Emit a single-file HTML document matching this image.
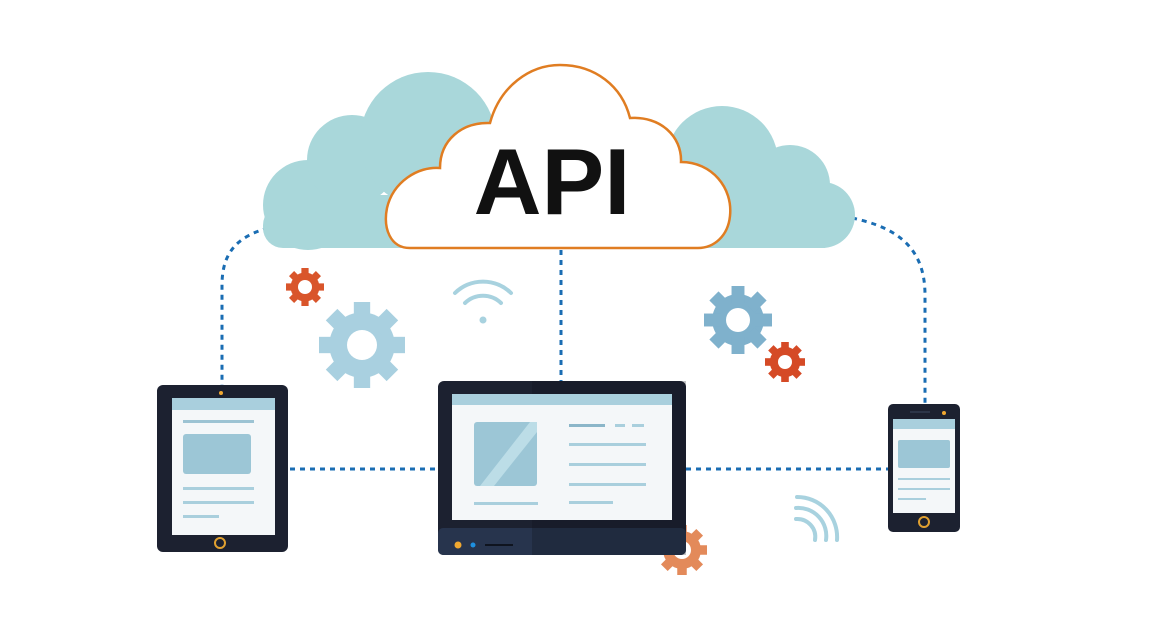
<!DOCTYPE html>
<html><head><meta charset="utf-8"><style>
html,body{margin:0;padding:0;background:#fff;}
svg{display:block}
</style></head><body>
<svg width="1164" height="640" viewBox="0 0 1164 640" xmlns="http://www.w3.org/2000/svg">
<defs>
<g id="gear">
<circle r="0.76"/>
<rect x="-0.19" y="-1" width="0.38" height="0.5"/>
<rect x="-0.19" y="-1" width="0.38" height="0.5" transform="rotate(45)"/>
<rect x="-0.19" y="-1" width="0.38" height="0.5" transform="rotate(90)"/>
<rect x="-0.19" y="-1" width="0.38" height="0.5" transform="rotate(135)"/>
<rect x="-0.19" y="-1" width="0.38" height="0.5" transform="rotate(180)"/>
<rect x="-0.19" y="-1" width="0.38" height="0.5" transform="rotate(225)"/>
<rect x="-0.19" y="-1" width="0.38" height="0.5" transform="rotate(270)"/>
<rect x="-0.19" y="-1" width="0.38" height="0.5" transform="rotate(315)"/>
</g>
</defs>
<rect width="1164" height="640" fill="#fff"/>

<!-- dotted connectors -->
<g fill="none" stroke="#1a6db3" stroke-width="3" stroke-dasharray="5 5">
<path d="M268,228 C240,236 222,250 222,285 V386"/>
<line x1="561" y1="250" x2="561" y2="381"/>
<path d="M852,218 C900,228 925,250 925,295 V404"/>
<line x1="290" y1="469" x2="438" y2="469"/>
<line x1="686" y1="469" x2="888" y2="469"/>
</g>

<!-- teal cloud -->
<g fill="#a9d7da">
<circle cx="308" cy="205" r="45"/>
<circle cx="352" cy="160" r="45"/>
<circle cx="428" cy="140" r="68"/>
<circle cx="722" cy="162" r="56"/>
<circle cx="790" cy="185" r="40"/>
<circle cx="822" cy="215" r="33"/>
<rect x="300" y="195" width="525" height="53"/>
<rect x="263" y="205" width="60" height="43" rx="20"/>
</g>

<!-- API cloud -->
<path d="M410,248 C390,248 383,228 387,208 C393,182 418,166 440,168 C440,140 462,122 490,123 C500,86 530,65 560,65 C595,65 622,86 630,118 C660,116 682,136 681,162 C712,162 733,188 730,216 C728,236 714,248 698,248 Z" fill="#fff" stroke="#e07d22" stroke-width="2.5"/>
<text x="552" y="214" text-anchor="middle" font-family="Liberation Sans, sans-serif" font-weight="700" font-size="94" fill="#111">API</text>

<!-- gears -->
<use href="#gear" transform="translate(305,287) scale(19)" fill="#d9552b"/>
<circle cx="305" cy="287" r="7" fill="#fff"/>
<use href="#gear" transform="translate(362,345) scale(43)" fill="#a9d0e0"/>
<circle cx="362" cy="345" r="15" fill="#fff"/>
<use href="#gear" transform="translate(738,320) scale(34)" fill="#7fb1cc"/>
<circle cx="738" cy="320" r="12" fill="#fff"/>
<use href="#gear" transform="translate(785,362) scale(20)" fill="#d54a26"/>
<circle cx="785" cy="362" r="7" fill="#fff"/>
<use href="#gear" transform="translate(682,550) scale(25)" fill="#e38a5a"/>
<circle cx="682" cy="550" r="9" fill="#fff"/>

<!-- wifi top -->
<g fill="none" stroke="#a8d2df" stroke-width="4" stroke-linecap="round">
<path d="M455,293 A40,40 0 0 1 511,293"/>
<path d="M465,303 A26,26 0 0 1 501,303"/>
</g>
<circle cx="483" cy="320" r="3.5" fill="#a8d2df"/>
<!-- wifi bottom right -->
<g fill="none" stroke="#a8d2df" stroke-width="4" stroke-linecap="round">
<path d="M797,497 A40,40 0 0 1 837,540"/>
<path d="M796,508 A28,28 0 0 1 826,540"/>
<path d="M796,519 A18,18 0 0 1 815,540"/>
</g>

<!-- tablet -->
<rect x="157" y="385" width="131" height="167" rx="6" fill="#1c2130"/>
<circle cx="221" cy="393" r="2" fill="#f0a830"/>
<rect x="172" y="398" width="103" height="137" fill="#f4f7f9"/>
<rect x="172" y="398" width="103" height="12" fill="#a9cfdd"/>
<rect x="183" y="420" width="71" height="3" fill="#9cc3d3"/>
<rect x="183" y="434" width="68" height="40" rx="3" fill="#9cc6d6"/>
<rect x="183" y="487" width="71" height="3" fill="#a9cfdd"/>
<rect x="183" y="501" width="71" height="3" fill="#a9cfdd"/>
<rect x="183" y="515" width="36" height="3" fill="#a9cfdd"/>
<circle cx="220" cy="543" r="5" fill="none" stroke="#e0a030" stroke-width="2"/>

<!-- monitor -->
<rect x="438" y="381" width="248" height="174" rx="6" fill="#1c2130"/>
<rect x="438" y="528" width="248" height="27" rx="5" fill="#27344d"/>
<rect x="532" y="381" width="154" height="174" fill="#0a0e18" opacity="0.25"/>
<rect x="452" y="394" width="220" height="126" fill="#f4f7f9"/>
<rect x="452" y="394" width="220" height="11" fill="#a9cfdd"/>
<rect x="474" y="422" width="63" height="64" rx="3" fill="#9cc6d6"/>
<path d="M480,486 L530,422 L537,422 L537,432 L494,486 Z" fill="#bcdde7"/>
<rect x="569" y="424" width="36" height="3" fill="#8bb6c9"/>
<rect x="615" y="424" width="10" height="3" fill="#a9cfdd"/>
<rect x="632" y="424" width="12" height="3" fill="#a9cfdd"/>
<rect x="569" y="443" width="77" height="3" fill="#a9cfdd"/>
<rect x="569" y="463" width="77" height="3" fill="#a9cfdd"/>
<rect x="569" y="483" width="77" height="3" fill="#a9cfdd"/>
<rect x="569" y="501" width="44" height="3" fill="#a9cfdd"/>
<rect x="474" y="502" width="64" height="3" fill="#a9cfdd"/>
<circle cx="458" cy="545" r="3.5" fill="#f0a830"/>
<circle cx="473" cy="545" r="2.5" fill="#1e90e0"/>
<rect x="485" y="544" width="28" height="2" fill="#0f141f"/>

<!-- phone -->
<rect x="888" y="404" width="72" height="128" rx="5" fill="#1c2130"/>
<rect x="910" y="411" width="20" height="2" fill="#2c3548"/>
<circle cx="944" cy="413" r="2" fill="#f0a830"/>
<rect x="893" y="419" width="62" height="94" fill="#f4f7f9"/>
<rect x="893" y="419" width="62" height="10" fill="#a9cfdd"/>
<rect x="898" y="440" width="52" height="28" rx="2" fill="#9cc6d6"/>
<rect x="898" y="478" width="52" height="2" fill="#a9cfdd"/>
<rect x="898" y="488" width="52" height="2" fill="#a9cfdd"/>
<rect x="898" y="498" width="28" height="2" fill="#a9cfdd"/>
<circle cx="924" cy="522" r="5" fill="none" stroke="#e0a030" stroke-width="2"/>
</svg>
</body></html>
